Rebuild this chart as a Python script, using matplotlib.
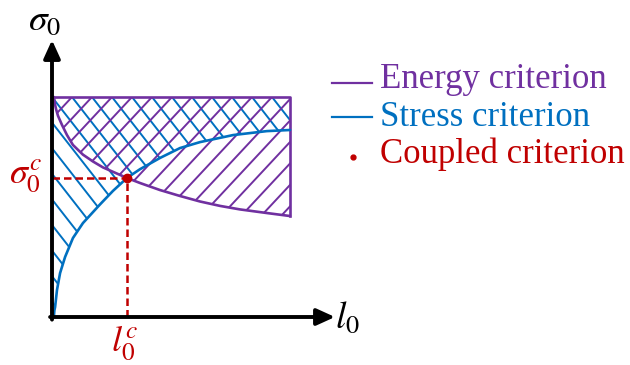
import numpy as np
import matplotlib
matplotlib.use('Agg')
import matplotlib.pyplot as plt
from matplotlib.collections import LineCollection
from matplotlib.patches import Polygon
from matplotlib.transforms import IdentityTransform
from matplotlib.lines import Line2D

# curves, in (l0, sigma0) with the box = [0,1] x [0,1]
energy_l = [0.008, 0.012, 0.017, 0.025, 0.042, 0.063, 0.088, 0.13, 0.172, 0.214,
            0.273, 0.315, 0.37, 0.454, 0.538, 0.622, 0.706, 0.79, 0.9, 1.0]
energy_s = [1.0, 0.97, 0.945, 0.915, 0.873, 0.827, 0.782, 0.738, 0.707, 0.68,
            0.652, 0.632, 0.609, 0.577, 0.55, 0.525, 0.505, 0.489, 0.473, 0.459]
stress_l = [0.008, 0.01, 0.013, 0.021, 0.034, 0.055, 0.088, 0.13, 0.202, 0.256,
            0.315, 0.37, 0.454, 0.538, 0.622, 0.761, 0.903, 1.0]
stress_s = [0.005, 0.03, 0.045, 0.123, 0.2, 0.273, 0.359, 0.427, 0.512, 0.573,
            0.632, 0.672, 0.723, 0.768, 0.795, 0.827, 0.845, 0.85]
coupled_l = 0.315
coupled_s = 0.632
legend_labels = ['Energy criterion', 'Stress criterion', 'Coupled criterion']

PURPLE = '#7030A0'
BLUE = '#0070C0'
RED = '#C00000'

plt.rcParams['mathtext.fontset'] = 'stix'

W, H = 630, 365
fig = plt.figure(figsize=(W / 100, H / 100), dpi=100)
ax = fig.add_axes([52 / W, 48 / H, 238 / W, 220 / H])
ax.set_xlim(0, 1)
ax.set_ylim(0, 1)
ax.axis('off')


def px(x, y):
    # pixel position (top-left origin) -> figure fraction
    return x / W, 1 - y / H


def hatch(ax, patch, angle, step, color):
    # straight hatch lines (pixel space) clipped to the patch
    x0, y0 = ax.transData.transform((0, 1))
    t = np.radians(angle)
    d = np.array([np.cos(t), np.sin(t)]) * 800
    segs = []
    for k in range(-40, 41):
        p = np.array([x0 + k * step, y0])
        segs.append([p - d, p + d])
    lc = LineCollection(segs, colors=color, linewidths=1.4,
                        transform=IdentityTransform(), zorder=1)
    lc.set_clip_path(patch)
    ax.add_collection(lc, autolim=False)


# regions
energy_poly = Polygon(list(zip(energy_l, energy_s)) + [(1, 1)],
                      closed=True, fc='none', ec='none')
stress_poly = Polygon([(0, 0)] + list(zip(stress_l, stress_s)) + [(1, 1), (0, 1)],
                      closed=True, fc='none', ec='none')
ax.add_patch(energy_poly)
ax.add_patch(stress_poly)
hatch(ax, stress_poly, -52, 20, BLUE)
hatch(ax, energy_poly, 47, 20, PURPLE)

# criteria
ax.plot([0, 1, 1], [1, 1, energy_s[-1]], color=PURPLE, lw=1.9, clip_on=False, zorder=3)
ax.plot(energy_l, energy_s, color=PURPLE, lw=1.9, clip_on=False, zorder=3,
        solid_capstyle='round')
ax.plot(stress_l, stress_s, color=BLUE, lw=1.9, clip_on=False, zorder=4,
        solid_capstyle='round')

# coupled point and its projections
ax.plot([0, coupled_l], [coupled_s, coupled_s], color=RED, lw=1.8,
        ls=(0, (3, 1.6)), clip_on=False, zorder=5)
ax.plot([coupled_l, coupled_l], [0, coupled_s], color=RED, lw=1.8,
        ls=(0, (3, 1.6)), clip_on=False, zorder=5)
ax.plot([coupled_l], [coupled_s], 'o', color=RED, ms=6, clip_on=False, zorder=6)

# axes with arrows
arrow = dict(arrowstyle='-|>,head_length=1.1,head_width=0.5', lw=2.8, color='k',
             shrinkA=0, shrinkB=0, mutation_scale=10)
ax.annotate('', xy=(0, 1.259), xytext=(0, -0.012), arrowprops=arrow,
            annotation_clip=False, zorder=7)
ax.annotate('', xy=(1.189, 0), xytext=(-0.008, 0), arrowprops=arrow,
            annotation_clip=False, zorder=7)

fig.text(*px(45, 20), r'$\sigma_0$', fontsize=27, ha='center', va='center')
fig.text(*px(347, 318), r'$l_0$', fontsize=27, ha='center', va='center')
fig.text(*px(25, 176), r'$\sigma_0^c$', fontsize=26, color=RED, ha='center', va='center')
fig.text(*px(125, 343), r'$l_0^c$', fontsize=26, color=RED, ha='center', va='center')

# legend drawn by hand
fig.add_artist(Line2D([332 / W, 372 / W], [1 - 83 / H] * 2, color=PURPLE, lw=1.6))
fig.add_artist(Line2D([332 / W, 372 / W], [1 - 117 / H] * 2, color=BLUE, lw=1.6))
fig.add_artist(Line2D([353 / W], [1 - 157 / H], marker='o', ms=3.5, color=RED, lw=0))
for label, color, y in zip(legend_labels, [PURPLE, BLUE, RED], [88, 126, 163]):
    fig.text(*px(380, y), label, color=color, fontsize=25, family='Liberation Serif',
             ha='left', va='baseline')

fig.savefig('out.png', dpi=100)
